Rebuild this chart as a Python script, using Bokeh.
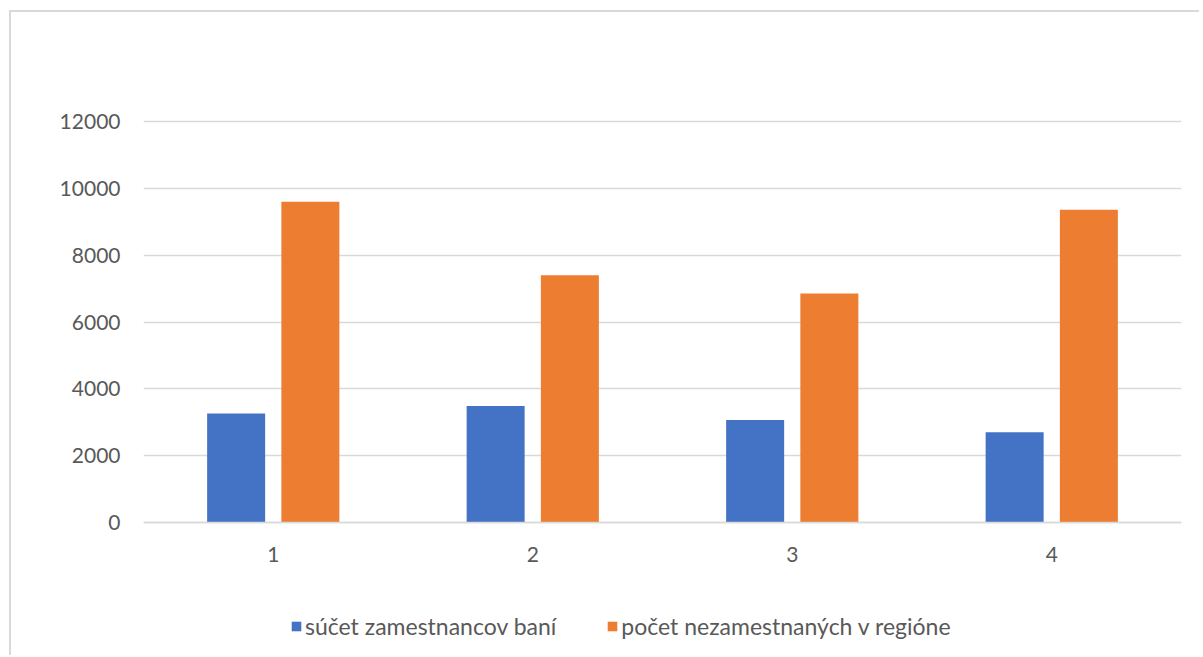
from bokeh.plotting import figure
from bokeh.models import ColumnDataSource, FactorRange, Range1d, FixedTicker, Legend, LegendItem
from bokeh.transform import dodge
from bokeh.embed import file_html
from bokeh.resources import INLINE

categories = ["1", "2", "3", "4"]
employees = [3260, 3490, 3070, 2700]
unemployed = [9600, 7400, 6850, 9360]
series_names = ["súčet zamestnancov baní", "počet nezamestnaných v regióne"]
y_ticks = [0, 2000, 4000, 6000, 8000, 10000, 12000]

src = ColumnDataSource(dict(cat=categories, emp=employees, unemp=unemployed))

FONT = "Lato"
TXT = "#595959"

# frame extends below zero so the legend can live inside it; x axis pinned at y=0
p = figure(width=1190, height=645, x_range=FactorRange(*categories), y_range=Range1d(-3890, 12060),
           output_backend="svg", toolbar_location=None,
           min_border_left=132, min_border_right=20, min_border_top=107, min_border_bottom=5)
p.styles = {"border-left": "2px solid #d9d9d9", "border-top": "2px solid #d9d9d9",
            "margin-left": "9px", "margin-top": "10px"}
p.outline_line_color = None

r1 = p.vbar(x=dodge("cat", -0.143, range=p.x_range), top="emp", width=0.2235, source=src,
            fill_color="#4472C4", line_color=None)
r2 = p.vbar(x=dodge("cat", 0.143, range=p.x_range), top="unemp", width=0.2235, source=src,
            fill_color="#ED7D31", line_color=None)

p.yaxis.ticker = FixedTicker(ticks=y_ticks)
p.ygrid.ticker = FixedTicker(ticks=y_ticks)
p.ygrid.grid_line_color = "#d9d9d9"
p.ygrid.grid_line_width = 1.5
p.xgrid.grid_line_color = None

for ax in (p.xaxis, p.yaxis):
    ax.major_tick_line_color = None
    ax.minor_tick_line_color = None
    ax.major_label_text_font = FONT
    ax.major_label_text_font_size = "21px"
    ax.major_label_text_color = TXT
p.yaxis.axis_line_color = None
p.yaxis.major_label_standoff = 17
p.xaxis.fixed_location = 0
p.xaxis.axis_line_color = "#d9d9d9"
p.xaxis.axis_line_width = 1.5
p.xaxis.major_label_standoff = 18

legend = Legend(items=[LegendItem(label=series_names[0], renderers=[r1]),
                       LegendItem(label=series_names[1], renderers=[r2])],
                orientation="horizontal", location=(147, 12),
                label_text_font=FONT, label_text_font_size="23px", label_text_color=TXT,
                glyph_width=12, glyph_height=12, label_standoff=3, spacing=50,
                margin=0, padding=5, border_line_color=None, background_fill_alpha=0)
p.add_layout(legend, "center")

open("out.html", "w").write(file_html(p, INLINE))
